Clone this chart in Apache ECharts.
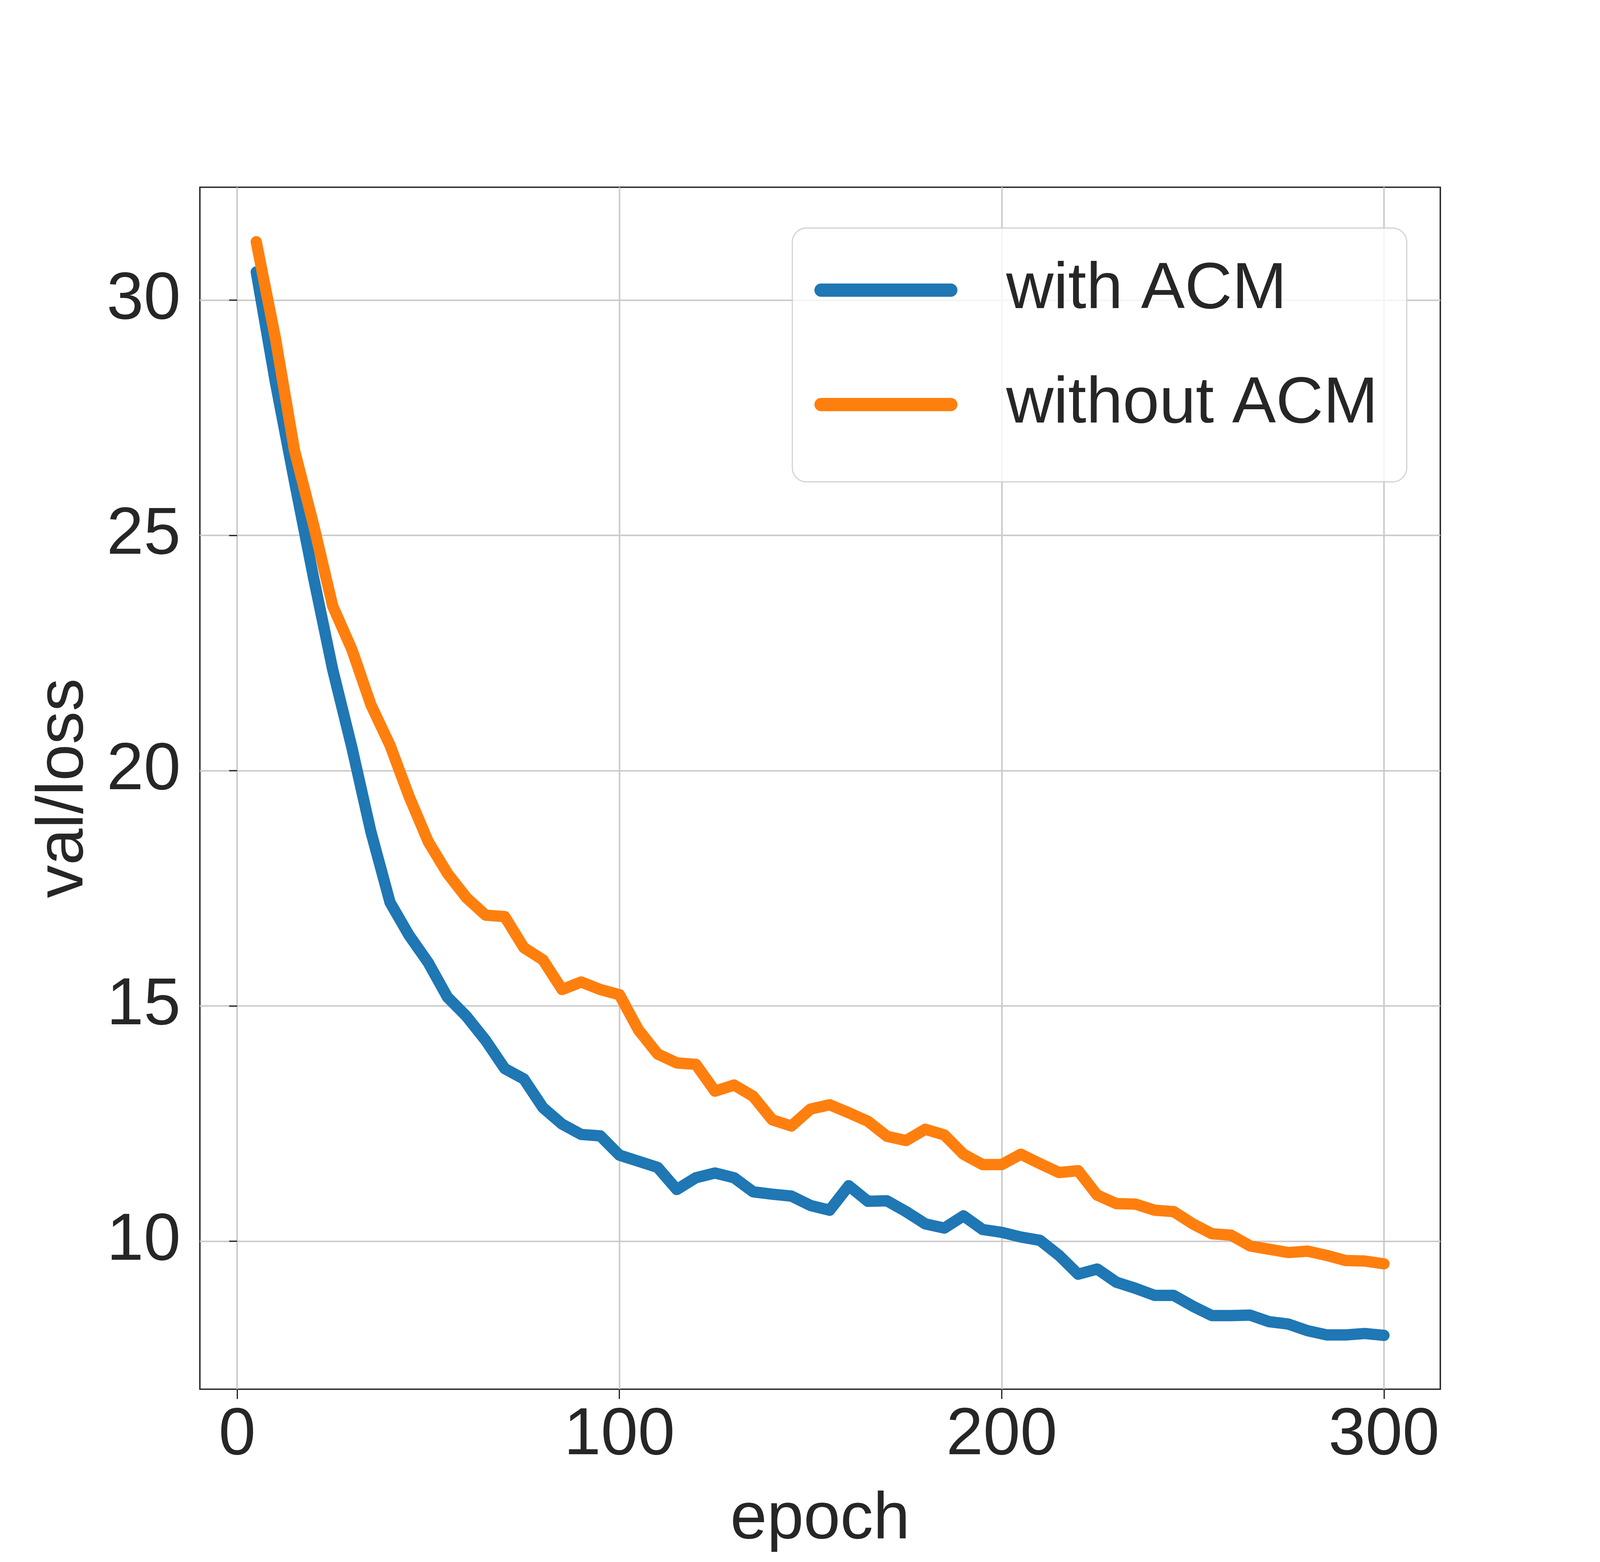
<!DOCTYPE html>
<html>
<head>
<meta charset="utf-8">
<script src="https://cdn.jsdelivr.net/npm/echarts@6/dist/echarts.min.js"></script>
<style>
html,body{margin:0;padding:0;background:#fff;overflow:hidden;}
#chart{width:100vw;height:100vh;}
</style>
</head>
<body>
<div id="chart"></div>
<script>
const epochs = [5,10,15,20,25,30,35,40,45,50,55,60,65,70,75,80,85,90,95,100,
  105,110,115,120,125,130,135,140,145,150,155,160,165,170,175,180,185,190,195,200,
  205,210,215,220,225,230,235,240,245,250,255,260,265,270,275,280,285,290,295,300];

const withACM = [30.6,28.26,26.15,24.1,22.15,20.5,18.7,17.2,16.5,15.92,
  15.19,14.78,14.27,13.67,13.45,12.84,12.49,12.27,12.24,11.83,
  11.7,11.57,11.1,11.35,11.45,11.35,11.05,11.0,10.96,10.76,
  10.66,11.18,10.85,10.86,10.63,10.37,10.28,10.54,10.25,10.19,
  10.09,10.02,9.7,9.3,9.41,9.13,9.0,8.85,8.85,8.62,
  8.42,8.42,8.43,8.29,8.24,8.1,8.01,8.01,8.04,8.0];

const withoutACM = [31.24,29.2,26.81,25.22,23.5,22.58,21.4,20.54,19.45,18.49,
  17.82,17.3,16.93,16.9,16.24,15.98,15.35,15.51,15.35,15.24,
  14.49,13.98,13.79,13.76,13.19,13.32,13.08,12.58,12.45,12.81,
  12.9,12.73,12.55,12.23,12.14,12.38,12.26,11.85,11.63,11.63,
  11.85,11.65,11.46,11.5,10.98,10.8,10.79,10.66,10.63,10.37,
  10.16,10.13,9.9,9.83,9.76,9.79,9.7,9.59,9.58,9.52];

const xTicks = [0, 100, 200, 300];
const yTicks = [10, 15, 20, 25, 30];
const seriesNames = ['with ACM', 'without ACM'];
const seriesColors = ['#1f77b4', '#ff7f0e'];

const FONT = "'Liberation Sans', Arial, Helvetica, sans-serif";
const TXT = '#262626';

const el = document.getElementById('chart');
const W = el.clientWidth, H = el.clientHeight;
const sx = W / 5000, sy = H / 4000;
const X = v => v * sx, Y = v => v * sy;
const F = v => v * sx;
const sm = Math.sqrt(sx * sy);

const iw = 447, ih = 34;
const iconW = X(iw), iconH = Y(ih), rr = iconH / 2;
const legendIcon = 'path://M' + rr + ',0 L' + (iconW - rr) + ',0 A' + rr + ',' + rr + ' 0 0 1 ' + (iconW - rr) + ',' + iconH +
  ' L' + rr + ',' + iconH + ' A' + rr + ',' + rr + ' 0 0 1 ' + rr + ',0 Z';

function pairs(xs, ys) { return xs.map((x, i) => [x, ys[i]]); }

const chart = echarts.init(el, null, {renderer: 'canvas'});
chart.setOption({
  animation: false,
  backgroundColor: '#ffffff',
  textStyle: {fontFamily: FONT},
  grid: {
    left: X(624.6), right: X(499), top: Y(479.5), bottom: Y(442.5),
    show: true, borderColor: TXT, borderWidth: 4 * sm, backgroundColor: 'transparent',
    containLabel: false, outerBoundsMode: 'none'
  },
  xAxis: {
    type: 'value', min: -9.75, max: 314.75,
    axisLine: {show: false},
    axisTick: {show: true, customValues: xTicks, length: Y(25), lineStyle: {color: TXT, width: 3.5 * sm}},
    axisLabel: {customValues: xTicks, fontSize: F(208), color: TXT, fontFamily: FONT, margin: Y(23) + (Y(208) - F(208)) * 0.3, lineHeight: F(208)},
    splitLine: {show: true, lineStyle: {color: '#cccccc', width: 4.5 * sm}},
    name: 'epoch', nameLocation: 'middle', nameGap: Y(239) + (Y(206) - F(206)) * 0.3,
    nameTextStyle: {fontSize: F(206), color: TXT, fontFamily: FONT, lineHeight: F(206)}
  },
  yAxis: {
    type: 'value', min: 6.856, max: 32.40,
    axisLine: {show: false},
    axisTick: {show: true, customValues: yTicks, length: X(25), lineStyle: {color: TXT, width: 3.5 * sm}},
    axisLabel: {customValues: yTicks, fontSize: F(208), color: TXT, fontFamily: FONT, margin: X(60)},
    splitLine: {show: true, lineStyle: {color: '#cccccc', width: 4.5 * sm}},
    name: 'val/loss', nameLocation: 'middle', nameGap: X(321),
    nameTextStyle: {fontSize: F(206), color: TXT, fontFamily: FONT, lineHeight: F(206)}
  },
  legend: {
    orient: 'vertical', left: X(2476), top: Y(584),
    itemWidth: iconW, itemHeight: iconH, itemGap: Y(293) - Y(230),
    padding: [Y(44), X(90), Y(83), X(69)],
    backgroundColor: 'rgba(255,255,255,0.8)',
    borderColor: 'rgba(204,204,204,0.8)', borderWidth: 3.6 * sm, borderRadius: 40 * sm,
    itemStyle: {borderWidth: 0},
    textStyle: {fontSize: F(205), color: TXT, fontFamily: FONT, lineHeight: Y(230), padding: [0, 0, 0, X(146)]},
    data: seriesNames.map(n => ({name: n, icon: legendIcon}))
  },
  series: [
    {
      name: seriesNames[0], type: 'line', data: pairs(epochs, withACM),
      showSymbol: false, symbol: 'none', color: seriesColors[0],
      lineStyle: {width: 32 * sm, color: seriesColors[0], cap: 'round', join: 'round'}
    },
    {
      name: seriesNames[1], type: 'line', data: pairs(epochs, withoutACM),
      showSymbol: false, symbol: 'none', color: seriesColors[1],
      lineStyle: {width: 32 * sm, color: seriesColors[1], cap: 'round', join: 'round'}
    }
  ]
});
</script>
</body>
</html>
